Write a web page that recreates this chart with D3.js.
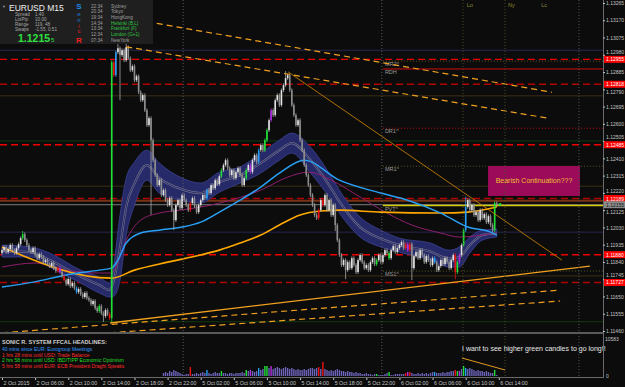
<!DOCTYPE html>
<html>
<head>
<meta charset="utf-8">
<script src="https://cdn.jsdelivr.net/npm/d3@7/dist/d3.min.js"></script>
<style>
  *{margin:0;padding:0;box-sizing:border-box}
  body{background:#0c0c0c;width:625px;height:387px;overflow:hidden}
  svg{display:block;font-family:"Liberation Sans",Arial,sans-serif}
</style>
</head>
<body>
<svg id="c" width="625" height="387"></svg>
<script>
// ---- data (EURUSD M15, 2 Oct 02:00 .. 6 Oct 14:00) ----
const open0 = 1.11890;
const closes = [
1.11905,1.11922,1.11894,1.11911,1.11933,1.11905,1.11889,1.11916,1.11938,1.11971,1.11993,1.11960,1.11933,
1.11905,1.11894,1.11916,1.11878,1.11861,1.11883,1.11867,1.11839,
1.11850,1.11828,1.11817,1.11834,1.11806,1.11790,1.11806,1.11784,
1.11762,1.11740,1.11718,1.11746,1.11707,1.11724,
1.11696,1.11674,1.11691,1.11663,1.11647,1.11669,1.11641,1.11630,
1.11608,1.11625,1.11586,1.11570,1.11597,1.11559,1.11542,1.11575,
1.11553,1.11531,
1.12939,1.12868,1.12994,1.13016,1.12978,1.13005,1.12950,1.13022,
1.12961,1.12895,1.12917,1.12840,1.12862,1.12774,1.12730,
1.12758,1.12675,1.12593,1.12631,1.12510,1.12400,
1.12318,1.12263,1.12290,1.12208,1.12235,1.12180,1.12153,
1.12191,1.12125,1.12070,1.12153,1.12180,1.12136,1.12208,
1.12180,1.12153,1.12125,1.12164,1.12191,1.12147,1.12114,1.12153,1.12180,
1.12208,1.12191,1.12235,1.12219,1.12263,1.12246,1.12290,1.12268,1.12312,
1.12345,1.12373,1.12400,1.12356,1.12318,1.12345,1.12301,
1.12334,1.12356,1.12318,1.12263,1.12301,1.12345,1.12373,1.12334,
1.12400,1.12428,1.12389,1.12455,1.12483,1.12455,1.12510,
1.12565,1.12620,1.12675,1.12648,1.12730,1.12758,1.12703,1.12785,1.12813,1.12851,1.12868,
1.12785,1.12703,1.12648,1.12593,1.12620,1.12510,
1.12455,1.12373,1.12318,1.12263,1.12208,
1.12153,1.12098,1.12081,1.12125,1.12180,
1.12153,1.12208,1.12125,1.12180,1.12098,1.12153,1.12043,
1.11960,1.11878,1.11823,1.11850,1.11795,
1.11839,1.11806,1.11861,1.11823,1.11784,1.11850,1.11878,
1.11839,1.11806,1.11823,1.11795,1.11839,1.11861,1.11828,1.11850,1.11878,1.11839,
1.11878,1.11905,1.11889,1.11861,1.11905,1.11927,1.11894,1.11916,1.11933,
1.11949,1.11916,1.11938,1.11905,1.11938,1.11806,1.11872,
1.11894,1.11861,1.11905,1.11878,1.11839,1.11872,1.11850,
1.11823,1.11861,1.11839,1.11795,1.11817,1.11850,1.11828,1.11861,
1.11839,1.11806,1.11850,1.11878,1.11784,
1.11839,1.11878,1.11933,
1.12015,1.12142,
1.12180,1.12125,1.12153,1.12098,1.12114,1.12070,
1.12125,1.12081,1.12103,1.12059,1.12092,1.12043,1.12015,
1.12164,1.12153
];
// bars with long wicks: [bar, high, low]
const longWicks = [
  [10,1.12010,null],[49,null,1.11510],[53,1.12950,1.11510],[56,1.13045,null],[57,null,1.12730],
  [60,1.13040,null],[72,null,1.12100],[83,null,1.12015],[137,1.12890,null],[161,null,1.12010],
  [166,null,1.11745],[198,null,1.11740],[219,null,1.11745],[224,1.12200,null]
];
// volume-climax colouring (Sonic R): bar index and class
const climaxIdx = [10,27,28,30,36,47,52,53,54,55,91,99,106,118,120,124,127,128,130,153,155,181,187,195,196,197,209,219,220,221,223,224,238];
const climaxCls = ['g','r','m','r','b','g','r','g','r','b','r','b','g','g','m','b','g','g','m','r','r','g','g','r','m','r','b','r','g','m','g','b','g'];

const volStart = 78;
const volumes = [
795,1060,795,1325,1060,1590,1325,1060,795,530,
265,530,530,2385,530,530,795,530,
795,1060,795,1590,795,530,795,1060,795,795,
1325,795,795,530,795,795,530,795,795,795,1060,795,
1590,1325,1590,1325,1060,1325,2120,1590,1855,2650,2650,2120,2650,
1855,2120,2385,2120,1855,2120,2385,2120,1855,2120,1855,1590,1855,1590,1590,1855,1590,1855,2120,
2120,1855,2120,2385,1855,3710,1855,1590,1325,1590,1325,1590,
1855,1590,1325,1325,1060,1325,1060,1060,795,1060,795,795,
530,530,795,530,530,265,530,530,265,265,265,530,795,1060,
265,265,530,530,530,530,530,795,1060,1060,795,530,
530,795,530,795,530,795,530,795,1060,1060,795,795,795,
1060,795,1060,1060,1325,1325,1590,1325,1325,1855,2650,2120,
1855,2120,1855,1590,1325,1590,1325,1325,1060,1325,1060,795,795,1590,265
];
const volMax = 10583;

// dragon band (EMA34 high / low), key points
const bandIdx = [0,14,23,38,47,52,54,57,60,64,70,76,86,96,105,115,125,134,140,149,158,163,173,183,192,207,216,221,226,232,239];
const bandHi = [1.11933,1.11922,1.11889,1.11795,1.11757,1.11724,1.11823,1.12098,1.12301,1.12389,1.12455,1.12384,1.12307,1.12274,1.12334,1.12362,1.12439,1.12510,1.12549,1.12472,1.12329,1.12235,1.12087,1.12015,1.11971,1.11944,1.11905,1.11922,1.11977,1.12015,1.12021];
const bandLo = [1.11867,1.11867,1.11812,1.11724,1.11669,1.11647,1.11652,1.11740,1.11988,1.12153,1.12290,1.12219,1.12180,1.12164,1.12224,1.12274,1.12329,1.12400,1.12439,1.12329,1.12197,1.12109,1.11977,1.11922,1.11894,1.11850,1.11812,1.11812,1.11889,1.11960,1.11977];
// moving averages, key points
const blueIdx = [0,15,31,47,53,56,60,67,76,87,96,105,115,125,134,146,163,183,196,212,225,236,239];
const blueVal = [1.11702,1.11729,1.11768,1.11795,1.11806,1.11850,1.11944,1.11999,1.12015,1.12032,1.12059,1.12114,1.12180,1.12252,1.12329,1.12400,1.12290,1.12219,1.12180,1.12109,1.12032,1.12004,1.11988];
const purpIdx = [0,16,31,47,53,55,60,67,76,86,96,105,125,138,148,159,173,186,198,212,221,232,239];
const purpVal = [1.11812,1.11834,1.11795,1.11779,1.11779,1.11812,1.11960,1.12070,1.12109,1.12125,1.12142,1.12164,1.12235,1.12307,1.12334,1.12290,1.12197,1.12109,1.12043,1.11999,1.11977,1.11988,1.11999];
const orngIdx = [0,53,64,80,96,105,115,125,134,144,154,163,183,212,225,239];
const orngVal = [1.11922,1.11751,1.11795,1.11839,1.11878,1.11905,1.11944,1.11988,1.12043,1.12098,1.12120,1.12125,1.12114,1.12109,1.12114,1.12142];

// horizontal levels
const redLevels = [1.12955,1.12818,1.12485,1.12189,1.11880,1.11727];
const navyLevels = [1.13005,1.12004];
const oliveLevels = [1.12754,1.12257,1.11763];
const greenLevels = [1.12506,1.11511];
const brownLevel = 1.12177;
const bidPrice = 1.12155;
const pivotStart = 184;
const pivotNames = ['MR2^','RDH','DR1^','MR1^','PVT^','MS1^'];
const pivotVals = [1.12945,1.12902,1.12576,1.12367,1.12150,1.11790];

// trend lines [bar1, price1, bar2, price2]
const trendLines = [
  [70,1.13162,265.7,1.12774],
  [60,1.13024,263.8,1.12631],
  [138.2,1.12886,270.5,1.11850],
  [52.2,1.11504,284,1.11817],
  [0,1.11450,269.6,1.11685],
  [52,1.11450,269.6,1.11625]
];
const trendKinds = ['dash','dash','thin','solid','dash','dash'];
const volTrend = [222.2,4760,243,1590];
const noteBox = [234.8,1.12368,279.2,1.12203];

const dayBreaks = [87.5,183.5];
const sessIdx = [222.7,243,278.7];
const sessLabIdx = [224.5,244.5,260.5];
const sessLabels = ['Lo','Ny','Lc'];

const priceTicks = [1.13265,1.13170,1.13075,1.12980,1.12885,1.12790,1.12695,1.12600,1.12505,1.12410,1.12315,1.12220,1.12125,1.12030,1.11935,1.11840,1.11745,1.11650,1.11555,1.11460];
const timeIdx = [0,16,32,48,64,80,96,112,128,144,160,176,192,208,224,240];
const timeLabels = ['2 Oct 2015','2 Oct 06:00','2 Oct 10:00','2 Oct 14:00','2 Oct 18:00','2 Oct 22:00','5 Oct 02:00','5 Oct 06:00','5 Oct 10:00','5 Oct 14:00','5 Oct 18:00','5 Oct 22:00','6 Oct 02:00','6 Oct 06:00','6 Oct 10:00','6 Oct 14:00'];

const infoRows = [['Spread','1.40'],['LotPip','10.00'],['Range','119, 48'],['Swaps','-1.55, 0.51']];
const clocks = [['22:34','Sydney'],['20:34','Tokyo'],['19:34','HongKong'],['14:34','Helsinki (B.L)'],['13:34','Frankfurt (F)'],['12:34','London (G+1)'],['07:34','NewYork']];
const clockOpen = [false,false,false,true,true,true,false];
const headlines = [
  ['40 mins since EUR: Eurogroup Meetings','b'],
  ['1 hrs 28 mins until USD: Trade Balance','r'],
  ['2 hrs 58 mins until USD: IBD/TIPP Economic Optimism','g'],
  ['5 hrs 58 mins until EUR: ECB President Draghi Speaks','r']
];

// ---- drawing ----
const PR = 603;
const COL = {g:'#22e03a', r:'#ee1111', m:'#b030e0', b:'#2a9df4'};
const xs = d3.scaleLinear().domain([0,240]).range([2,498.8]);
const ys = d3.scaleLinear().domain([1.11460,1.13265]).range([331,3]);
const vs = d3.scaleLinear().domain([0,volMax]).range([376,336]);

const svg = d3.select('#c');
svg.append('rect').attr('width',625).attr('height',387).attr('fill','#0c0c0c');
const defs = svg.append('defs');
defs.append('clipPath').attr('id','pc').append('rect').attr('x',0).attr('y',0).attr('width',PR).attr('height',332);
defs.append('clipPath').attr('id','vc').append('rect').attr('x',0).attr('y',334).attr('width',PR).attr('height',43);

const main = svg.append('g').attr('clip-path','url(#pc)');
const hline = (p,col,w,dash,x0) => main.append('line')
  .attr('x1',x0||0).attr('x2',PR).attr('y1',ys(p)).attr('y2',ys(p))
  .attr('stroke',col).attr('stroke-width',w).attr('stroke-dasharray',dash||null);

navyLevels.forEach(p=>hline(p,'#262650',1));
oliveLevels.forEach(p=>hline(p,'#3a3018',1));
greenLevels.forEach(p=>hline(p,'#0f3a10',1));
hline(brownLevel,'#7a3216',2);
hline(bidPrice,'#7c7c7c',1);

// vertical dotted lines (day breaks, sessions)
const vgrid = svg.append('g');
dayBreaks.forEach(i=>vgrid.append('line').attr('x1',xs(i)).attr('x2',xs(i)).attr('y1',0).attr('y2',377)
  .attr('stroke','#5a5a5a').attr('stroke-dasharray','1,2'));
sessIdx.forEach((i,k)=>vgrid.append('line').attr('x1',xs(i)).attr('x2',xs(i)).attr('y1',0).attr('y2',377)
  .attr('stroke',k<2?'#4a4a2a':'#555').attr('stroke-dasharray','1,2'));
sessLabels.forEach((t,k)=>svg.append('text').attr('x',xs(sessLabIdx[k])).attr('y',7)
  .attr('fill','#8a8a30').attr('font-size',5.5).text(t));

// red S/R levels
redLevels.forEach((p,k)=>hline(p,(k===1||k===3||k===5)?'#b00000':'#ee0000',1.4,'7,4'));

// pivots
const x0p = xs(pivotStart);
hline(pivotVals[0],'#5a5a20',1,'1,2',x0p);
hline(pivotVals[1],'#d01010',1,null,x0p);
hline(pivotVals[2],'#c01010',1,'1,2',x0p);
hline(pivotVals[3],'#5a5a20',1,'1,2',x0p);
hline(pivotVals[4],'#d4c800',1.5,null,x0p);
hline(pivotVals[5],'#5a5a20',1,'1,2',x0p);
pivotNames.forEach((t,k)=>main.append('text').attr('x',x0p+2).attr('y',ys(pivotVals[k])+5)
  .attr('fill','#9a9a9a').attr('font-size',5.5).text(t));

// dragon band
const bandPts = bandIdx.map((i,k)=>[i,bandHi[k],bandLo[k]]);
main.append('path').datum(bandPts)
  .attr('d',d3.area().x(d=>xs(d[0])).y0(d=>ys(d[2])).y1(d=>ys(d[1])).curve(d3.curveMonotoneX))
  .attr('fill','#262a68').attr('stroke','#3c4294').attr('stroke-width',0.8);
const midLine = d3.line().x(d=>xs(d[0])).y(d=>ys((d[1]+d[2])/2)).curve(d3.curveMonotoneX);
main.append('path').datum(bandPts).attr('d',midLine).attr('fill','none').attr('stroke','#6e6e92').attr('stroke-width',2.2);
main.append('path').datum(bandPts).attr('d',midLine).attr('fill','none').attr('stroke','#222656').attr('stroke-width',0.9);

// moving averages
const maLine = d3.line().x(d=>xs(d[0])).y(d=>ys(d[1])).curve(d3.curveMonotoneX);
main.append('path').datum(purpIdx.map((i,k)=>[i,purpVal[k]])).attr('d',maLine)
  .attr('fill','none').attr('stroke','#8e1f6e').attr('stroke-width',1);
main.append('path').datum(orngIdx.map((i,k)=>[i,orngVal[k]])).attr('d',maLine)
  .attr('fill','none').attr('stroke','#ffa800').attr('stroke-width',1.6);
main.append('path').datum(blueIdx.map((i,k)=>[i,blueVal[k]])).attr('d',maLine)
  .attr('fill','none').attr('stroke','#2aa0f5').attr('stroke-width',1.5);

// candles
const climax = new Map(climaxIdx.map((i,k)=>[i,climaxCls[k]]));
const wickMap = new Map(longWicks.map(w=>[w[0],w]));
const bars = closes.map((c,i)=>{
  const o = i===0?open0:closes[i-1];
  let hi = Math.max(o,c)+0.0001, lo = Math.min(o,c)-0.0001;
  const w = wickMap.get(i);
  if(w){ if(w[1]!=null) hi=w[1]; if(w[2]!=null) lo=w[2]; }
  return {i,o,c,hi,lo,cls:climax.get(i)};
});
const cg = main.append('g');
cg.selectAll('line').data(bars).enter().append('line')
  .attr('x1',d=>xs(d.i)).attr('x2',d=>xs(d.i))
  .attr('y1',d=>ys(d.hi)).attr('y2',d=>ys(d.lo))
  .attr('stroke',d=>d.cls?COL[d.cls]:'#a8a8a8').attr('stroke-width',0.8);
cg.selectAll('rect').data(bars).enter().append('rect')
  .attr('x',d=>xs(d.i)-0.8).attr('width',1.6)
  .attr('y',d=>ys(Math.max(d.o,d.c)))
  .attr('height',d=>Math.max(0.8,Math.abs(ys(d.o)-ys(d.c))))
  .attr('fill',d=>d.cls?COL[d.cls]:(d.c>=d.o?'#e4e4e4':'#8c8c8c'));

// trend lines
trendLines.forEach((t,k)=>{
  const kind = trendKinds[k];
  main.append('line').attr('x1',xs(t[0])).attr('y1',ys(t[1])).attr('x2',xs(t[2])).attr('y2',ys(t[3]))
    .attr('stroke',kind==='thin'?'#d88a00':'#f0a020')
    .attr('stroke-width',kind==='thin'?0.8:(kind==='solid'?1.3:1.2))
    .attr('stroke-dasharray',kind==='dash'?'6,4':null);
});

// note box
main.append('rect').attr('x',xs(noteBox[0])).attr('y',ys(noteBox[1]))
  .attr('width',xs(noteBox[2])-xs(noteBox[0])).attr('height',ys(noteBox[3])-ys(noteBox[1]))
  .attr('fill','#9c0a5a');
main.append('text').attr('x',(xs(noteBox[0])+xs(noteBox[2]))/2).attr('y',(ys(noteBox[1])+ys(noteBox[3]))/2+2.5)
  .attr('text-anchor','middle').attr('fill','#f0c030').attr('font-size',7).text('Bearish Continuation???');
// bid marker
main.append('rect').attr('x',xs(240)).attr('y',ys(bidPrice)-1.5).attr('width',2.5).attr('height',2.5).attr('fill','#22e03a');

// volume pane
const vol = svg.append('g').attr('clip-path','url(#vc)');
vol.selectAll('rect').data(volumes).enter().append('rect')
  .attr('x',(d,k)=>xs(volStart+k)-0.7).attr('width',1.4)
  .attr('y',d=>vs(d)).attr('height',d=>vs(0)-vs(d))
  .attr('fill',(d,k)=>{const c=climax.get(volStart+k);return c?COL[c]:'#6c63b8';});
vol.append('line').attr('x1',xs(volTrend[0])).attr('y1',vs(volTrend[1])).attr('x2',xs(volTrend[2])).attr('y2',vs(volTrend[3]))
  .attr('stroke','#e09a20').attr('stroke-width',1);
svg.append('text').attr('x',462).attr('y',351).attr('fill','#e8e8e8').attr('font-size',7)
  .text('I want to see higher green candles to go long!!');

// pane frames
svg.append('rect').attr('x',0).attr('y',332).attr('width',PR).attr('height',2).attr('fill','#5a5a5a');
svg.append('line').attr('x1',0).attr('x2',PR).attr('y1',377.5).attr('y2',377.5).attr('stroke','#6a6a6a');
svg.append('line').attr('x1',PR+0.5).attr('x2',PR+0.5).attr('y1',0).attr('y2',378).attr('stroke','#6a6a6a');

// right price axis; labels that sit under a price tag are nudged clear of it
const tagPrices = redLevels.concat([bidPrice]);
const ax = svg.append('g').attr('transform',`translate(${PR},0)`).attr('color','#c4c4c4')
  .call(d3.axisRight(ys).tickValues(priceTicks).tickFormat(d3.format('.5f')).tickSize(2).tickPadding(1));
ax.select('.domain').remove();
ax.selectAll('.tick text').attr('font-size',5).attr('font-family','"Liberation Sans",Arial,sans-serif')
  .attr('dy',function(d){
    let off = 0;
    tagPrices.forEach(p=>{
      const gap = ys(d)-ys(p);
      if(Math.abs(gap)<7.5) off = (gap<0?-1:1)*(7.5-Math.abs(gap));
    });
    return (off+1.7)+'px';
  });
const tag = (p,bg,fg) => {
  svg.append('rect').attr('x',PR+1).attr('y',ys(p)-3.5).attr('width',21).attr('height',7).attr('fill',bg);
  svg.append('text').attr('x',PR+3).attr('y',ys(p)+2).attr('fill',fg).attr('font-size',5).text(d3.format('.5f')(p));
};
redLevels.forEach(p=>tag(p,'#ff0000','#ffffff'));
tag(bidPrice,'#8a8a8a','#1a1a1a');
svg.append('text').attr('x',PR+2).attr('y',341).attr('fill','#c4c4c4').attr('font-size',5).text(volMax);
svg.append('text').attr('x',PR+3).attr('y',378).attr('fill','#c4c4c4').attr('font-size',5).text('0');

// bottom time axis
const bx = svg.append('g').attr('transform','translate(0,378)').attr('color','#c4c4c4')
  .call(d3.axisBottom(xs).tickValues(timeIdx).tickFormat((d,k)=>timeLabels[k]).tickSize(2).tickPadding(1));
bx.select('.domain').remove();
bx.selectAll('text').attr('text-anchor','start').attr('dx',1).attr('font-size',5.3)
  .attr('font-family','"Liberation Sans",Arial,sans-serif');

// headlines
svg.append('text').attr('x',2).attr('y',344).attr('fill','#cfcfcf').attr('font-size',5.6).attr('font-weight','bold')
  .text('SONIC R. SYSTEM  FFCAL HEADLINES:');
headlines.forEach((h,k)=>svg.append('text').attr('x',2).attr('y',351+k*5.6)
  .attr('fill',{b:'#3399ff',r:'#ff2a2a',g:'#22dd22'}[h[1]]).attr('font-size',5).text(h[0]));

// info panel
const ip = svg.append('g');
ip.append('rect').attr('x',0).attr('y',0).attr('width',153).attr('height',44).attr('fill','#1f1f1f');
ip.append('text').attr('x',2).attr('y',8).attr('fill','#9a9a9a').attr('font-size',4).text('\u25BC');
ip.append('text').attr('x',9).attr('y',11).attr('fill','#f0f0f0').attr('font-size',8.5).text('EURUSD  M15');
infoRows.forEach((r,k)=>{
  ip.append('text').attr('x',15).attr('y',16+k*5).attr('fill','#a8a8a8').attr('font-size',4.6).text(r[0]);
  ip.append('text').attr('x',35).attr('y',16+k*5).attr('fill','#a8a8a8').attr('font-size',4.6).text(r[1]);
});
ip.append('text').attr('x',18).attr('y',42).attr('fill','#2ee040').attr('font-size',10.5).attr('font-weight','bold').text('1.1215');
ip.append('text').attr('x',51).attr('y',42).attr('fill','#2ee040').attr('font-size',6).text('5');
const sonic = [['S','#1e8ae6',8.5,8],['o','#1a78c8',15.5,5.5],['n','#1a66a8',21.5,5.5],['i','#b02020',27.5,5.5],['c','#d02020',33.3,5.5],['R','#ee2020',42.5,8]];
sonic.forEach(s=>ip.append('text').attr('x',79).attr('y',s[2]).attr('text-anchor','middle')
  .attr('fill',s[1]).attr('font-size',s[3]).attr('font-weight','bold').text(s[0]));
clocks.forEach((c,k)=>{
  ip.append('text').attr('x',91).attr('y',7.5+k*5.7).attr('fill','#a0a0a0').attr('font-size',4.6).text(c[0]);
  ip.append('text').attr('x',111).attr('y',7.5+k*5.7).attr('fill',clockOpen[k]?'#2ec840':'#a0a0a0').attr('font-size',4.6).text(c[1]);
});
</script>
</body>
</html>
